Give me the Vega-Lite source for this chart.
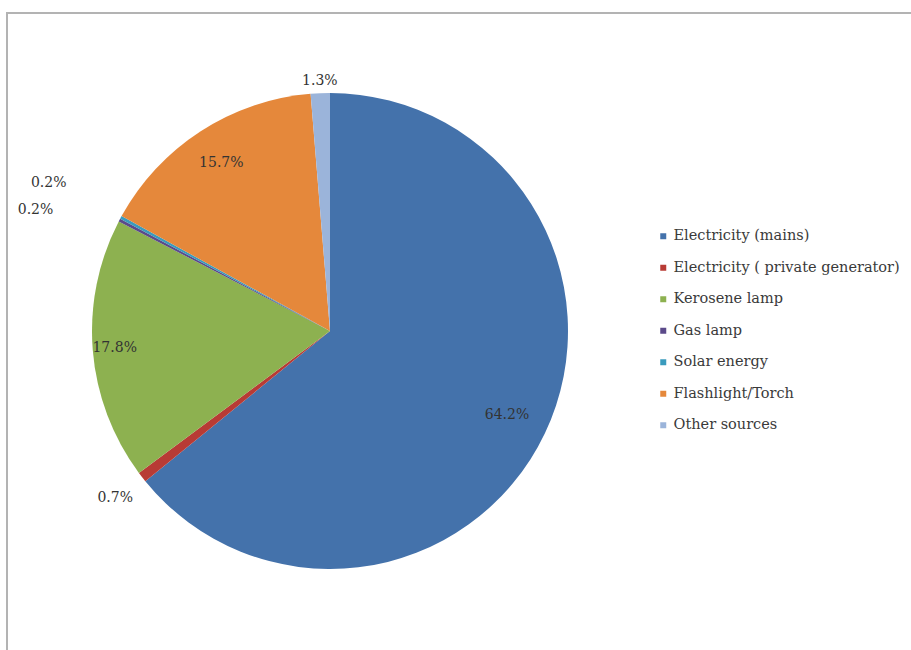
{
  "$schema": "https://vega.github.io/schema/vega-lite/v6.json",
  "width": 908,
  "height": 641,
  "autosize": {"type": "none"},
  "padding": {"left": 7, "top": 13, "right": -4, "bottom": -4},
  "background": "white",
  "view": {"stroke": "#b3b3b3", "strokeWidth": 2},
  "data": {
    "values": [
      {"source": "Electricity (mains)", "pct": 64.2, "idx": 1, "label": "64.2%"},
      {"source": "Electricity ( private generator)", "pct": 0.7, "idx": 2, "label": "0.7%"},
      {"source": "Kerosene lamp", "pct": 17.8, "idx": 3, "label": "17.8%"},
      {"source": "Gas lamp", "pct": 0.2, "idx": 4, "label": "0.2%"},
      {"source": "Solar energy", "pct": 0.2, "idx": 5, "label": "0.2%"},
      {"source": "Flashlight/Torch", "pct": 15.7, "idx": 6, "label": "15.7%"},
      {"source": "Other sources", "pct": 1.3, "idx": 7, "label": "1.3%"}
    ]
  },
  "encoding": {
    "theta": {"field": "pct", "type": "quantitative", "stack": true},
    "order": {"field": "idx", "type": "quantitative"}
  },
  "layer": [
    {
      "mark": {"type": "arc", "radius": 238, "x": 323, "y": 318},
      "encoding": {
        "color": {
          "field": "source",
          "type": "nominal",
          "scale": {
            "domain": ["Electricity (mains)", "Electricity ( private generator)", "Kerosene lamp", "Gas lamp", "Solar energy", "Flashlight/Torch", "Other sources"],
            "range": ["#4472ab", "#b83b35", "#8db150", "#5b4a8a", "#3a9bbd", "#e5883b", "#9bb4da"]
          },
          "legend": {
            "title": null,
            "orient": "none",
            "legendX": 649,
            "legendY": 216,
            "symbolType": "square",
            "symbolSize": 36,
            "symbolStrokeWidth": 0,
            "labelFont": "DejaVu Serif",
            "labelFontSize": 14.5,
            "labelColor": "#3a3a3a",
            "labelLimit": 320,
            "rowPadding": 16.5,
            "labelOffset": 3
          }
        }
      }
    },
    {
      "mark": {
        "type": "text",
        "x": 323,
        "y": 318,
        "font": "DejaVu Serif",
        "fontSize": 14,
        "fill": "#333333",
        "radius": {"expr": "datum.pct > 60 ? 196 : datum.pct > 17 ? 216 : datum.pct > 10 ? 200 : datum.pct > 1 ? 250 : datum.pct > 0.5 ? 272 : 318"},
        "dx": {"expr": "datum.idx == 5 ? -15 : 0"},
        "dy": {"expr": "datum.idx == 5 ? 31 : 0"}
      },
      "encoding": {
        "text": {"field": "label", "type": "nominal"}
      }
    }
  ]
}
